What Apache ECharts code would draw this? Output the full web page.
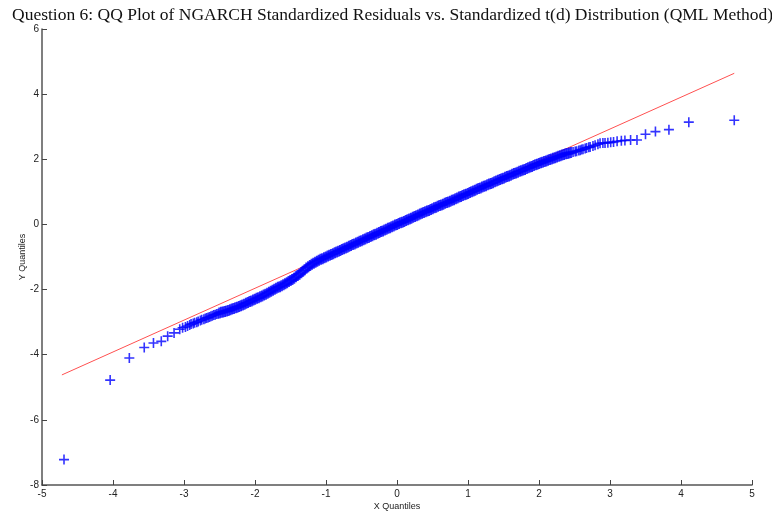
<!DOCTYPE html>
<html>
<head>
<meta charset="utf-8">
<script src="https://cdn.jsdelivr.net/npm/echarts@6/dist/echarts.min.js"></script>
<style>
  html, body { margin: 0; padding: 0; background: #fff; }
  #chart { width: 772px; height: 511px; }
</style>
</head>
<body>
<div id="chart"></div>
<script>
// quantile pairs
const xQuantiles = [
  // left tail
  -4.69, -4.04, -3.77, -3.56, -3.43, -3.32, -3.23, -3.14, -3.06, -3.02,
  -2.98, -2.95, -2.92, -2.90, -2.87, -2.85, -2.82, -2.80, -2.77, -2.75,
  -2.72, -2.70, -2.68, -2.66, -2.64, -2.62, -2.60, -2.58, -2.56, -2.54,
  -2.52,
  // dense body
  -2.500, -2.475, -2.450, -2.425, -2.400, -2.375, -2.350, -2.325,
  -2.300, -2.275, -2.250, -2.225, -2.200, -2.175, -2.150, -2.125,
  -2.100, -2.075, -2.050, -2.025, -2.000, -1.975, -1.950, -1.925,
  -1.900, -1.875, -1.850, -1.825, -1.800, -1.775, -1.750, -1.725,
  -1.700, -1.675, -1.650, -1.625, -1.600, -1.575, -1.550, -1.525,
  -1.500, -1.475, -1.450, -1.425, -1.400, -1.375, -1.350, -1.325,
  -1.300, -1.275, -1.250, -1.225, -1.200, -1.175, -1.150, -1.125,
  -1.100, -1.075, -1.050, -1.025, -1.000, -0.975, -0.950, -0.925,
  -0.900, -0.875, -0.850, -0.825, -0.800, -0.775, -0.750, -0.725,
  -0.700, -0.675, -0.650, -0.625, -0.600, -0.575, -0.550, -0.525,
  -0.500, -0.475, -0.450, -0.425, -0.400, -0.375, -0.350, -0.325,
  -0.300, -0.275, -0.250, -0.225, -0.200, -0.175, -0.150, -0.125,
  -0.100, -0.075, -0.050, -0.025, 0.000, 0.025, 0.050, 0.075,
  0.100, 0.125, 0.150, 0.175, 0.200, 0.225, 0.250, 0.275,
  0.300, 0.325, 0.350, 0.375, 0.400, 0.425, 0.450, 0.475,
  0.500, 0.525, 0.550, 0.575, 0.600, 0.625, 0.650, 0.675,
  0.700, 0.725, 0.750, 0.775, 0.800, 0.825, 0.850, 0.875,
  0.900, 0.925, 0.950, 0.975, 1.000, 1.025, 1.050, 1.075,
  1.100, 1.125, 1.150, 1.175, 1.200, 1.225, 1.250, 1.275,
  1.300, 1.325, 1.350, 1.375, 1.400, 1.425, 1.450, 1.475,
  1.500, 1.525, 1.550, 1.575, 1.600, 1.625, 1.650, 1.675,
  1.700, 1.725, 1.750, 1.775, 1.800, 1.825, 1.850, 1.875,
  1.900, 1.925, 1.950, 1.975, 2.000, 2.025, 2.050, 2.075,
  2.100, 2.125, 2.150, 2.175, 2.200, 2.225, 2.250, 2.275,
  2.300, 2.325, 2.350, 2.375, 2.400, 2.425, 2.450,
  // right tail
  2.48, 2.51, 2.53, 2.56, 2.58, 2.60, 2.62, 2.65, 2.67, 2.70,
  2.72, 2.76, 2.79, 2.83, 2.86, 2.90, 2.93, 2.97, 3.01, 3.05,
  3.10, 3.16, 3.21, 3.29, 3.38, 3.50, 3.64, 3.83, 4.11, 4.75
]
const yQuantiles = [
  -7.22, -4.78, -4.10, -3.78, -3.64, -3.59, -3.43, -3.33, -3.22, -3.17,
  -3.15, -3.12, -3.09, -3.06, -3.04, -3.02, -3.00, -2.98, -2.95, -2.93,
  -2.91, -2.89, -2.87, -2.86, -2.84, -2.82, -2.80, -2.78, -2.77, -2.75,
  -2.74,
  -2.72, -2.70, -2.69, -2.67, -2.66, -2.64, -2.62, -2.60,
  -2.58, -2.56, -2.54, -2.52, -2.50, -2.47, -2.45, -2.42,
  -2.40, -2.37, -2.35, -2.32, -2.30, -2.27, -2.25, -2.22,
  -2.20, -2.17, -2.14, -2.11, -2.08, -2.05, -2.02, -1.99,
  -1.96, -1.93, -1.91, -1.88, -1.85, -1.82, -1.79, -1.75,
  -1.72, -1.69, -1.65, -1.61, -1.57, -1.53, -1.48, -1.44,
  -1.39, -1.34, -1.30, -1.26, -1.22, -1.19, -1.16, -1.13,
  -1.10, -1.07, -1.05, -1.02, -1.00, -0.97, -0.95, -0.92,
  -0.90, -0.87, -0.85, -0.82, -0.80, -0.77, -0.75, -0.72,
  -0.70, -0.67, -0.65, -0.62, -0.60, -0.57, -0.55, -0.52,
  -0.50, -0.47, -0.45, -0.42, -0.40, -0.37, -0.35, -0.32,
  -0.30, -0.27, -0.25, -0.22, -0.20, -0.17, -0.15, -0.12,
  -0.10, -0.07, -0.05, -0.02, 0.00, 0.03, 0.05, 0.07,
  0.09, 0.12, 0.14, 0.17, 0.19, 0.22, 0.24, 0.27,
  0.29, 0.32, 0.34, 0.37, 0.39, 0.41, 0.43, 0.46,
  0.48, 0.51, 0.53, 0.56, 0.58, 0.60, 0.62, 0.65,
  0.67, 0.69, 0.71, 0.74, 0.76, 0.79, 0.81, 0.84,
  0.86, 0.89, 0.91, 0.93, 0.95, 0.98, 1.00, 1.03,
  1.05, 1.08, 1.10, 1.12, 1.15, 1.17, 1.19, 1.22,
  1.24, 1.26, 1.28, 1.31, 1.33, 1.36, 1.38, 1.40,
  1.42, 1.45, 1.47, 1.49, 1.51, 1.54, 1.56, 1.58,
  1.60, 1.63, 1.65, 1.67, 1.69, 1.72, 1.74, 1.76,
  1.78, 1.81, 1.83, 1.85, 1.87, 1.89, 1.91, 1.93,
  1.95, 1.97, 1.99, 2.01, 2.03, 2.05, 2.07, 2.09,
  2.11, 2.13, 2.15, 2.17, 2.18, 2.19, 2.21,
  2.22, 2.24, 2.25, 2.27, 2.28, 2.30, 2.31, 2.33, 2.35, 2.37,
  2.38, 2.41, 2.43, 2.46, 2.49, 2.50, 2.50, 2.51, 2.52, 2.53,
  2.55, 2.57, 2.58, 2.59, 2.59, 2.77, 2.85, 2.91, 3.14, 3.20
]
// reference line end points
const refX = [-4.72, 4.75]
const refY = [-4.62, 4.64]

const xTicks = [-5, -4, -3, -2, -1, 0, 1, 2, 3, 4, 5]
const yTicks = [-8, -6, -4, -2, 0, 2, 4, 6]

// body = the solid run of overlapping markers in the middle
const bodyStart = 31
const bodyEnd = 230

const chart = echarts.init(document.getElementById('chart'), null, { renderer: 'canvas' })

const axisFont = { color: '#222', fontSize: 10, fontFamily: 'Liberation Sans, Arial, sans-serif' }
const plus = 'path://M4.2,0H5.8V10H4.2Z M0,4.2H10V5.8H0Z'
const plusBold = 'path://M3.9,0H6.1V10H3.9Z M0,3.9H10V6.1H0Z'

const pts = xQuantiles.map((x, i) => [x, yQuantiles[i]])
const tailPts = pts.slice(0, bodyStart).concat(pts.slice(bodyEnd))
const bodyPts = pts.slice(bodyStart, bodyEnd)

chart.setOption({
  animation: false,
  title: {
    text: 'Question 6: QQ Plot of NGARCH Standardized Residuals vs. Standardized t(d) Distribution (QML Method)',
    left: 7,
    top: 1,
    textStyle: { fontFamily: 'Liberation Serif, Times New Roman, serif', fontWeight: 'normal', fontSize: 17.5, color: '#111' },
  },
  grid: { left: 42, right: 20, top: 29, bottom: 26, outerBoundsMode: 'none', containLabel: false },
  xAxis: {
    type: 'value',
    min: xTicks[0],
    max: xTicks[xTicks.length - 1],
    interval: 1,
    name: 'X Quantiles',
    nameLocation: 'middle',
    nameGap: 17,
    nameMoveOverlap: false,
    nameTextStyle: { color: '#222', fontSize: 9, fontFamily: 'Liberation Sans, Arial, sans-serif' },
    axisLine: { onZero: false, lineStyle: { color: '#555', width: 1.5 } },
    axisTick: { inside: true, length: 5, lineStyle: { color: '#444' } },
    axisLabel: Object.assign({ margin: 4 }, axisFont),
    splitLine: { show: false },
  },
  yAxis: {
    type: 'value',
    min: yTicks[0],
    max: yTicks[yTicks.length - 1],
    interval: 2,
    name: 'Y Quantiles',
    nameLocation: 'middle',
    nameGap: 15,
    nameMoveOverlap: false,
    nameTextStyle: { color: '#222', fontSize: 9, fontFamily: 'Liberation Sans, Arial, sans-serif' },
    axisLine: { onZero: false, lineStyle: { color: '#555', width: 1.5 } },
    axisTick: { inside: true, length: 5, lineStyle: { color: '#444' } },
    axisLabel: Object.assign({ margin: 3 }, axisFont),
    splitLine: { show: false },
  },
  series: [
    {
      type: 'line',
      data: refX.map((x, i) => [x, refY[i]]),
      symbol: 'none',
      lineStyle: { color: '#ff5050', width: 1 },
      z: 2,
    },
    {
      type: 'scatter',
      data: tailPts,
      symbol: plus,
      symbolSize: 10,
      itemStyle: { color: '#0000ff' },
      z: 3,
    },
    {
      type: 'scatter',
      data: bodyPts,
      symbol: plusBold,
      symbolSize: 11,
      itemStyle: { color: '#0000ff' },
      z: 3,
    },
  ],
})
</script>
</body>
</html>
